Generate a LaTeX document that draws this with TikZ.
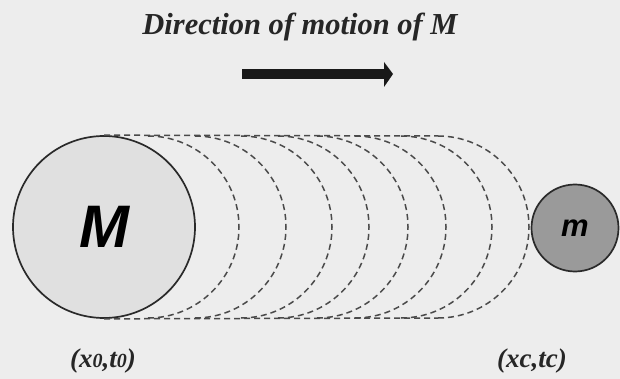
\documentclass[tikz,border=0pt]{standalone}
\usepackage{fontspec}
\setmainfont{Liberation Serif}
\newfontfamily\lsans{Liberation Sans}
\definecolor{bgc}{HTML}{EDEDED}
\definecolor{bigfill}{HTML}{E0E0E0}
\definecolor{smallfill}{HTML}{9A9A9A}
\definecolor{edge}{HTML}{2A2A2A}
\definecolor{dashc}{HTML}{4A4A4A}
\begin{document}
\begin{tikzpicture}[x=1pt,y=-1pt,
  body/.style={circle,draw=edge,line width=1.7pt,inner sep=0pt},
  ghost/.style={draw=dashc,line width=1.5pt,dash pattern=on 6pt off 4pt},
  lab/.style={font=\fontsize{27}{29}\selectfont\bfseries\itshape}]
\path[use as bounding box,fill=bgc] (0,0) rectangle (620,379);
% title and arrow
\node[font=\fontsize{30.5}{33}\selectfont\bfseries\itshape,text=black!85] (title) at (300,27) {Direction of motion of M};
\fill[black!90] (242,69) rectangle (386,79);
\fill[black!90] (384,62) -- (393,74) -- (384,87) -- cycle;
% ghost positions
\foreach \i/\cx in {1/148,2/195,3/241,4/278,5/317,6/355,7/401,8/438}{
  \coordinate (g\i) at (\cx,227);
  \draw[ghost] (g\i) ++(0,91) arc (90:-90:91);
}
\coordinate (topend) at (438,136);
\coordinate (botend) at (438,318);
% bodies
\node[body,fill=bigfill,minimum size=182] (M) at (104,227)
  {\lsans\bfseries\itshape\fontsize{60}{60}\selectfont M};
\node[body,fill=smallfill,minimum size=87] (m) at (575,228)
  {\lsans\bfseries\itshape\fontsize{31}{31}\selectfont m};
\draw[ghost] (M.north) -- (topend);
\draw[ghost] (M.south) -- (botend);
% labels
\node[lab,text=black!85] (l0) at (103,361) {(x{\fontsize{20}{20}\selectfont 0},t{\fontsize{20}{20}\selectfont 0})};
\node[lab,text=black!85] (lc) at (532,361) {(xc,tc)};
\end{tikzpicture}
\end{document}
